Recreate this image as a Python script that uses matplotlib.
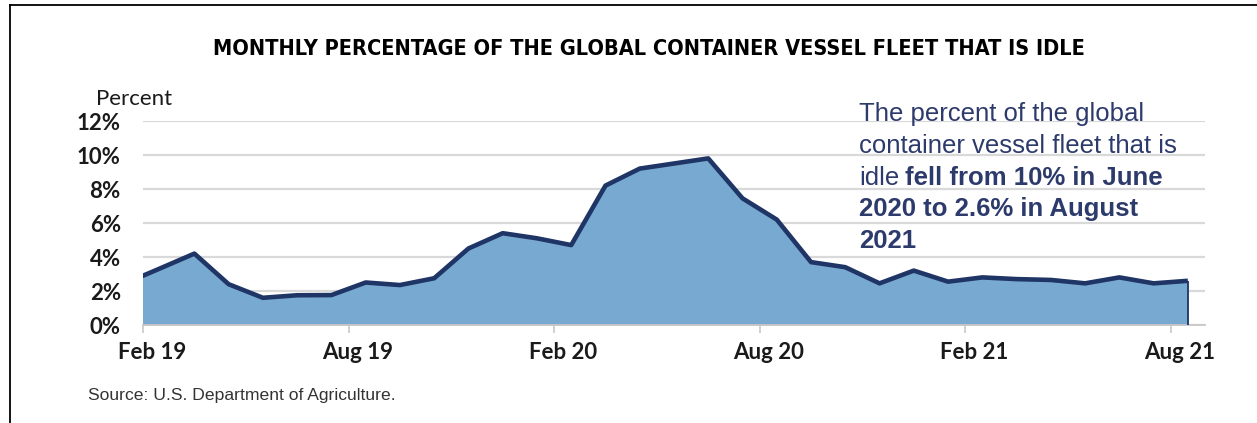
import numpy as np
import matplotlib.pyplot as plt
import matplotlib.transforms as mtransforms
from matplotlib import font_manager as fm
from matplotlib.lines import Line2D

# idle share of the global container fleet (%), monthly Jan 19 .. Aug 21
# (Jan 19 only sets the left edge, it falls outside the plotted range)
idle_pct = [2.47, 3.33, 4.2, 2.4, 1.6, 1.75, 1.76, 2.5, 2.35, 2.75, 4.5, 5.4,
            5.1, 4.7, 8.2, 9.2, 9.5, 9.8, 7.45, 6.2, 3.7, 3.4, 2.45, 3.2,
            2.55, 2.8, 2.7, 2.65, 2.45, 2.8, 2.45, 2.6]
tick_months = [0, 6, 12, 18, 24, 30]
tick_labels = ["Feb 19", "Aug 19", "Feb 20", "Aug 20", "Feb 21", "Aug 21"]
y_ticks = [0, 2, 4, 6, 8, 10, 12]
y_labels = ["0%", "2%", "4%", "6%", "8%", "10%", "12%"]

title = "MONTHLY PERCENTAGE OF THE GLOBAL CONTAINER VESSEL FLEET THAT IS IDLE"
note_lines = ["The percent of the global", "container vessel fleet that is"]
note_plain = "idle"
note_bold = ["fell from 10% in June", "2020 to 2.6% in August", "2021"]
source = "Source: U.S. Department of Agriculture."

navy = "#1f3566"
fill = "#78a9d1"
grid = "#d9d9d9"
text_navy = "#2d3b6c"

# a narrow bold face for the title if one is installed, else Roboto
title_font = None
for f in fm.fontManager.ttflist:
    nm = (f.name + " " + str(f.fname)).lower()
    if ("condensed" in nm or "narrow" in nm) and f.weight in ("bold", 700, "heavy", 800, 900):
        title_font = fm.FontProperties(fname=f.fname)
        break
if title_font is None:
    title_font = fm.FontProperties(family="Roboto", weight="bold")

W, H = 1257, 423
fig = plt.figure(figsize=(W / 100, H / 100), dpi=100)
ax = fig.add_axes([143 / W, 1 - 325 / H, (1205 - 143) / W, (325 - 121) / H])

x = np.arange(len(idle_pct)) - 0.5
ax.fill_between(x, idle_pct, 0, color=fill, lw=0, zorder=2)
ax.plot(x, idle_pct, color=navy, lw=3.3, solid_joinstyle="round",
        solid_capstyle="butt", zorder=3)
ax.vlines(x[-1], 0, idle_pct[-1], color=navy, lw=1.3, zorder=3)

ax.set_xlim(0, 31)
ax.set_ylim(0, 12)
ax.set_yticks(y_ticks, y_labels)
ax.yaxis.grid(True, color=grid, lw=1.6)
ax.set_axisbelow(True)
for s in ["left", "right", "top"]:
    ax.spines[s].set_visible(False)
ax.spines["bottom"].set_color("#c8c8c8")
ax.spines["bottom"].set_linewidth(1.3)
ax.tick_params(axis="y", length=0, pad=16, labelsize=16)
ax.tick_params(axis="x", length=5.5, width=1.2, color="#c8c8c8", pad=7,
               labelsize=16)
ax.set_xticks(tick_months, tick_labels)
for lab in ax.get_xticklabels() + ax.get_yticklabels():
    lab.set_fontfamily("Lato")
    lab.set_fontweight("bold")
    lab.set_color("#1a1a1a")
shift = mtransforms.ScaledTranslation(9 / 100, 0, fig.dpi_scale_trans)
for lab in ax.get_xticklabels():
    lab.set_transform(lab.get_transform() + shift)

fig.text(134 / W, 1 - 99 / H, "Percent", ha="center", va="center",
         fontsize=16, family="Lato", color="#1a1a1a")

t_title = fig.text(649 / W, 1 - 49 / H, title, ha="center", va="center",
                   fontproperties=title_font, fontsize=20, color="black")
fig.canvas.draw()
rend = fig.canvas.get_renderer()
tw = t_title.get_window_extent(rend).width
t_title.set_fontsize(min(20, 20 * 872 / tw))

# side note, line by line
nx = 859 / W
base = [121.5, 153, 184.5, 216, 247.5]
note_kw = dict(fontsize=18.5, family="Liberation Sans", color=text_navy,
               va="baseline", ha="left")
for i, line in enumerate(note_lines):
    fig.text(nx, 1 - base[i] / H, line, **note_kw)
t_idle = fig.text(nx, 1 - base[2] / H, note_plain, **note_kw)
fig.canvas.draw()
bb = t_idle.get_window_extent(rend)
fig.text((bb.x1 + 6) / W, 1 - base[2] / H, note_bold[0], fontweight="bold",
         **note_kw)
fig.text(nx, 1 - base[3] / H, note_bold[1], fontweight="bold", **note_kw)
fig.text(nx, 1 - base[4] / H, note_bold[2], fontweight="bold", **note_kw)

fig.text(88 / W, 1 - 395 / H, source, ha="left", va="center", fontsize=12.6,
         family="Liberation Sans", color="#333333")

# frame lines of the original panel
fig.add_artist(Line2D([10 / W, 10 / W], [0, 1 - 5 / H], color="black",
                      lw=1.3, transform=fig.transFigure))
fig.add_artist(Line2D([10 / W, 1], [1 - 5 / H, 1 - 5 / H], color="black",
                      lw=1.3, transform=fig.transFigure))

fig.savefig("out.png", dpi=100)
